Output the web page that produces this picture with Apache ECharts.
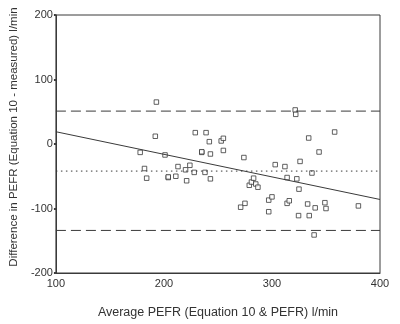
<!DOCTYPE html>
<html><head><meta charset="utf-8">
<script src="https://cdn.jsdelivr.net/npm/echarts@6/dist/echarts.min.js"></script>
<style>html,body{margin:0;padding:0;background:#fff}#c{width:400px;height:324px}</style>
</head><body><div id="c"></div>
<script>
// Bland-Altman style data: [average PEFR, difference]
var avgPEFR = [193,192,178,182,184,201,204,204,211,213,220,221,224,228,229,235,235,238,239,242,243,243,253,255,255,274,271,275,279,281,283,285,287,297,300,297,303,312,314,314,316,321.5,322,323,325,326,324.6,333,334,334.5,337,340,339,343.6,349,350,358,380];
var diffPEFR = [65,12,-13,-38,-53,-17,-52,-51,-50,-35,-40,-57,-33,-44,17.6,-13,-12,-44,17.6,3.6,-15.5,-54,4.7,8.8,-10,-21,-98,-92,-64,-59,-53,-62,-67,-87,-82,-105,-32,-35,-52,-92,-88,52.8,46,-54,-70,-27,-111,-93,9.3,-111,-45,-99,-141,-12.4,-91,-100,18.6,-96];
var xRange = [100, 400];
var upperLimit = 51;
var meanDiff = -42;
var lowerLimit = -134;
var regressionY = [19, -86];
var xTicks = [100, 200, 300, 400];
var yTicks = [-200, -100, 0, 100, 200];

var pts = avgPEFR.map(function(x, i){ return [x, diffPEFR[i]]; });
function hline(v){ return xRange.map(function(x){ return [x, v]; }); }
var ink = '#3a3a3a';
var chart = echarts.init(document.getElementById('c'), null, {renderer:'canvas'});
chart.setOption({
  animation: false,
  grid: {left: 50, right: 20, top: 15, bottom: 51, show: true, borderColor: ink, borderWidth: 1, backgroundColor: '#fff'},
  xAxis: {
    type: 'value', min: xTicks[0], max: xTicks[xTicks.length-1], interval: 100,
    name: 'Average PEFR (Equation 10 & PEFR) l/min', nameLocation: 'middle', nameGap: 33,
    nameTextStyle: {fontFamily: 'Liberation Sans', fontSize: 12.5, color: '#333'},
    axisLine: {show: true, onZero: false, lineStyle: {color: ink}},
    axisTick: {show: false},
    axisLabel: {fontFamily: 'Liberation Sans', fontSize: 11, color: '#333', margin: 5},
    splitLine: {show: false}
  },
  yAxis: {
    type: 'value', min: yTicks[0], max: yTicks[yTicks.length-1], interval: 100,
    name: 'Difference in PEFR (Equation 10 - measured) l/min', nameLocation: 'middle', nameGap: 35, nameRotate: 90,
    nameTextStyle: {fontFamily: 'Liberation Sans', fontSize: 11.5, color: '#333', padding: [0,0,0,14]},
    axisLine: {show: true, onZero: false, lineStyle: {color: ink}},
    axisTick: {show: true, length: 2, lineStyle: {color: ink, width: 2}},
    axisLabel: {fontFamily: 'Liberation Sans', fontSize: 11, color: '#333', margin: 3},
    splitLine: {show: false}
  },
  series: [
    {type: 'line', data: hline(upperLimit), symbol: 'none', silent: true, lineStyle: {color: ink, width: 1, type: [10,5]}},
    {type: 'line', data: hline(lowerLimit), symbol: 'none', silent: true, lineStyle: {color: ink, width: 1, type: [10,5]}},
    {type: 'line', data: hline(meanDiff), symbol: 'none', silent: true, lineStyle: {color: ink, width: 1, type: [1.5,3.5]}},
    {type: 'line', data: xRange.map(function(x,i){ return [x, regressionY[i]]; }), symbol: 'none', silent: true, lineStyle: {color: ink, width: 1}},
    {type: 'scatter', data: pts, symbol: 'rect', symbolSize: 4.5, itemStyle: {color: '#fff', borderColor: ink, borderWidth: 1}}
  ]
});
</script></body></html>
